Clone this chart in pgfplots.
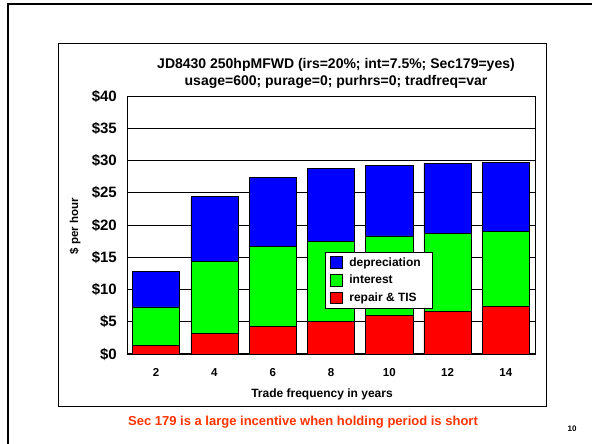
\documentclass[border=0pt]{standalone}
\usepackage{fontspec}
\setmainfont{Liberation Sans}
\usepackage{pgfplots}
\pgfplotsset{compat=1.18}
\definecolor{capred}{RGB}{255,51,0}
\definecolor{barblue}{RGB}{0,0,255}
\definecolor{bargreen}{RGB}{0,255,0}
\definecolor{barred}{RGB}{255,0,0}
\pgfplotsset{
  mylegend/.style={legend image code/.code={\draw[##1,draw=black,line width=0.6bp] (0bp,-5.8bp) rectangle (11.7bp,5.8bp); \path (17.5bp,0bp);}}
}
\begin{document}
\begin{tikzpicture}
\useasboundingbox (0bp,0bp) rectangle (592bp,444bp);
\draw[line width=1.8bp] (7.7bp,0bp) -- (7.7bp,440bp) -- (592bp,440bp);
\draw[line width=1.3bp] (58.2bp,37.3bp) rectangle (546.7bp,400.5bp);
\begin{axis}[
  at={(127bp,90bp)}, anchor=south west,
  scale only axis, width=408bp, height=258bp,
  ybar stacked, bar width=0.81,
  xmin=0.5, xmax=7.5, ymin=0, ymax=40,
  xtick={1,...,7}, xticklabels={2,4,6,8,10,12,14},
  ytick={0,5,...,40}, yticklabels={\$0,\$5,\$10,\$15,\$20,\$25,\$30,\$35,\$40},
  /pgf/number format/assume math mode=true,
  major tick length=0pt,
  ymajorgrids, grid style={black, line width=0.8bp},
  axis line style={black, line width=0.8bp},
  yticklabel style={anchor=east, inner sep=0pt, xshift=-10bp, font=\fontsize{15bp}{18bp}\selectfont\bfseries},
  xticklabel style={anchor=north, inner sep=0pt, yshift=-14bp, font=\fontsize{11.5bp}{13bp}\selectfont\bfseries},
  legend style={at={(0.485,0.395)}, anchor=north west, draw=black, line width=0.8bp, fill=white,
    font=\fontsize{12bp}{14bp}\selectfont\bfseries, inner xsep=5bp, inner ysep=4bp, row sep=5.5bp,
    nodes={inner sep=1bp}},
  legend cell align=left,
  reverse legend,
]
\addplot[fill=barred, draw=black, line width=0.6bp, mylegend] coordinates {(1,1.35) (2,3.2) (3,4.33) (4,5.1) (5,6.0) (6,6.65) (7,7.35)};
\addplot[fill=bargreen, draw=black, line width=0.6bp, mylegend] coordinates {(1,5.95) (2,11.2) (3,12.3) (4,12.4) (5,12.3) (6,12.1) (7,11.7)};
\addplot[fill=barblue, draw=black, line width=0.6bp, mylegend] coordinates {(1,5.45) (2,10.0) (3,10.8) (4,11.25) (5,11.0) (6,10.85) (7,10.6)};
\legend{\makebox[77bp][l]{repair \& TIS},\makebox[77bp][l]{interest},\makebox[77bp][l]{depreciation}}
\draw[line width=1.6bp] (rel axis cs:0,0) -- (rel axis cs:1,0);
\end{axis}
\node[anchor=base, font=\fontsize{14bp}{17bp}\selectfont\bfseries] at (336bp,375bp) {JD8430 250hpMFWD (irs=20\%; int=7.5\%; Sec179=yes)};
\node[anchor=base, font=\fontsize{14bp}{17bp}\selectfont\bfseries] at (336bp,358bp) {usage=600; purage=0; purhrs=0; tradfreq=var};
\node[rotate=90, font=\fontsize{11.5bp}{13bp}\selectfont\bfseries] at (75bp,218bp) {\$ per hour};
\node[anchor=north, inner sep=0pt, font=\fontsize{12bp}{14bp}\selectfont\bfseries] at (322bp,55bp) {Trade frequency in years};
\node[text=capred, font=\fontsize{13bp}{15bp}\selectfont\bfseries] at (303bp,22bp) {Sec 179 is a large incentive when holding period is short};
\node[font=\fontsize{8bp}{9bp}\selectfont\bfseries] at (572bp,15bp) {10};
\end{tikzpicture}
\end{document}
